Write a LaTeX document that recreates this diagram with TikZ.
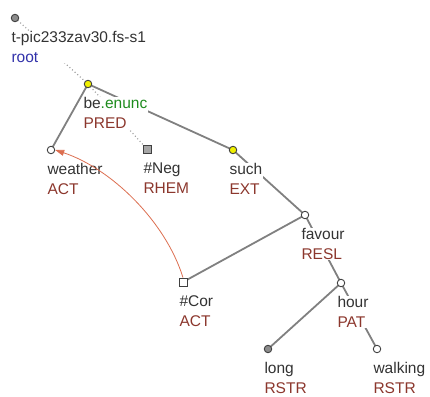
\documentclass[tikz,border=0pt]{standalone}
\usepackage{fontspec}
\setmainfont{Liberation Sans}
\usetikzlibrary{arrows.meta,calc}
\definecolor{fun}{RGB}{140,55,45}
\definecolor{edgegray}{RGB}{128,128,128}
\definecolor{corcol}{RGB}{220,110,80}
\definecolor{rootblue}{RGB}{50,50,170}
\definecolor{enuncgreen}{RGB}{30,140,30}
\definecolor{yel}{RGB}{240,240,0}
\begin{document}
\begin{tikzpicture}[x=1pt,y=-1pt,
  tnode/.style={circle,draw=black!75,line width=0.9pt,inner sep=0pt,minimum size=7.5pt},
  tsq/.style={rectangle,draw=black!75,line width=0.9pt,inner sep=0pt,minimum size=8pt},
  lbl/.style={anchor=north west,fill=white,inner sep=0.3pt,align=left,font=\fontsize{15.5}{20}\selectfont,text=black!80},
  edge/.style={draw=edgegray,line width=1.8pt},
  dotedge/.style={draw=edgegray!80,line width=1.1pt,dash pattern=on 1pt off 2.5pt},
  coref/.style={draw=corcol,line width=0.8pt,-{Triangle[length=9pt,width=6pt]}}]
\useasboundingbox (0,0) rectangle (430,396);
% coordinates of nodes
\coordinate (pr) at (15,18);
\coordinate (pbe) at (88,84);
\coordinate (pw) at (51,150);
\coordinate (pn) at (147,149);
\coordinate (ps) at (233,150);
\coordinate (pf) at (305,215);
\coordinate (pc) at (183,282);
\coordinate (ph) at (341,283);
\coordinate (pl) at (268,349);
\coordinate (pk) at (377,349);
% edges
\draw[dotedge] (pr) -- (pbe);
\draw[dotedge] (pbe) -- (pn);
\draw[edge] (pbe) -- (pw);
\draw[edge] (pbe) -- (ps);
\draw[edge] (ps) -- (pf);
\draw[edge] (pf) -- (pc);
\draw[edge] (pf) -- (ph);
\draw[edge] (ph) -- (pl);
\draw[edge] (ph) -- (pk);
% labels
\node[lbl] (lr) at ($(pr)+(-4,13)$) {t-pic233zav30.fs-s1\\\textcolor{rootblue}{root}};
\node[lbl] (lbe) at ($(pbe)+(-5,13)$) {be\textcolor{enuncgreen}{.enunc}\\\textcolor{fun}{PRED}};
\node[lbl] (lw) at ($(pw)+(-4,13)$) {weather\\\textcolor{fun}{ACT}};
\node[lbl] (ln) at ($(pn)+(-4,13)$) {\#Neg\\\textcolor{fun}{RHEM}};
\node[lbl] (ls) at ($(ps)+(-4,13)$) {such\\\textcolor{fun}{EXT}};
\node[lbl] (lf) at ($(pf)+(-4,13)$) {favour\\\textcolor{fun}{RESL}};
\node[lbl] (lc) at ($(pc)+(-4,13)$) {\#Cor\\\textcolor{fun}{ACT}};
\node[lbl] (lh) at ($(ph)+(-4,13)$) {hour\\\textcolor{fun}{PAT}};
\node[lbl] (ll) at ($(pl)+(-4,12.5)$) {long\\\textcolor{fun}{RSTR}};
\node[lbl] (lk) at ($(pk)+(-4,12.5)$) {walking\\\textcolor{fun}{RSTR}};
% nodes
\node[tnode,fill=black!45] (r) at (pr) {};
\node[tnode,fill=yel] (be) at (pbe) {};
\node[tnode,fill=white] (w) at (pw) {};
\node[tsq,fill=black!35] (n) at (pn) {};
\node[tnode,fill=yel] (s) at (ps) {};
\node[tnode,fill=white] (f) at (pf) {};
\node[tsq,fill=white] (c) at (pc) {};
\node[tnode,fill=white] (h) at (ph) {};
\node[tnode,fill=black!45] (l) at (pl) {};
\node[tnode,fill=white] (k) at (pk) {};
% coreference
\draw[coref] (c.north) .. controls (165,220) and (110,168) .. (w.east);
\end{tikzpicture}
\end{document}
